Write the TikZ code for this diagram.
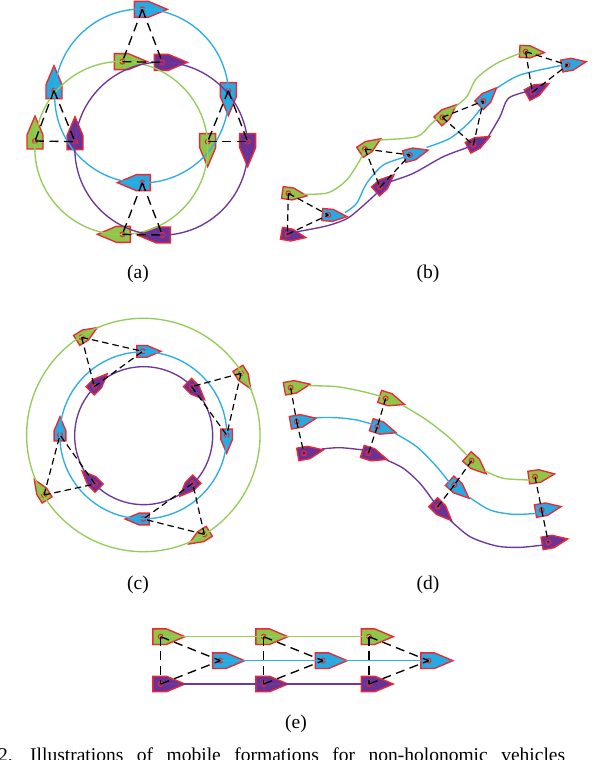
\documentclass[tikz,border=0pt]{standalone}
\usepackage{fontspec}
\setmainfont{Liberation Serif}
\definecolor{bgreen}{RGB}{141,198,72}
\definecolor{bblue}{RGB}{38,170,226}
\definecolor{bpurple}{RGB}{106,50,150}
\definecolor{lgreen}{RGB}{150,204,90}
\definecolor{lblue}{RGB}{45,175,228}
\definecolor{lpurple}{RGB}{110,55,155}
\definecolor{bred}{RGB}{238,40,50}
\tikzset{
  hull/.style={draw=bred,line width=1.35pt,line join=miter},
  hub/.style={draw=bred,line width=1.1pt},
  link/.style={black,line width=1.35pt,dash pattern=on 9pt off 5.5pt},
  linksmall/.style={black,line width=1.2pt,dash pattern=on 6.5pt off 4pt},
  trackg/.style={lgreen,line width=1.35pt},
  trackb/.style={lblue,line width=1.35pt},
  trackp/.style={lpurple,line width=1.35pt},
  panel/.style={x=0.33333pt,y=-0.33333pt},
  sublabel/.style={font=\fontsize{19.5}{22}\selectfont,inner sep=0pt,anchor=center},
}
% name, x, y, heading, scale, fill
\newcommand{\boat}[6]{%
  \coordinate (#1) at (#2,#3);
  \begin{scope}[shift={(#1)},x=1pt,y=1pt,rotate=#4,scale=#5]
    \path[hull,fill=#6] (-8,-8) -- (6,-8) -- (25,0) -- (6,8) -- (-8,8) -- cycle;
  \end{scope}
  \draw[hub] (#1) circle[radius=2.4pt];
}
\begin{document}
\begin{tikzpicture}[x=1pt,y=-1pt]
\useasboundingbox (0,0) rectangle (612,760);
\fill[white] (0,0) rectangle (612,760);

% ---------- (a)
\begin{scope}[shift={(20,0)},panel]
  \boat{a1b}{367}{28}{0}{1}{bblue}
  \boat{a1g}{307}{185}{0}{1}{bgreen}
  \boat{a1p}{427}{187}{0}{1}{bpurple}
  \boat{a2b}{102}{272}{90}{1}{bblue}
  \boat{a2g}{45}{423}{90}{1}{bgreen}
  \boat{a2p}{165}{425}{90}{1}{bpurple}
  \boat{a3b}{625}{272}{-90}{1}{bblue}
  \boat{a3g}{563}{425}{-90}{1}{bgreen}
  \boat{a3p}{683}{425}{-90}{1}{bpurple}
  \boat{a4b}{367}{548}{180}{1}{bblue}
  \boat{a4g}{307}{703}{180}{1}{bgreen}
  \boat{a4p}{427}{705}{180}{1}{bpurple}
  \draw[trackb] (365,288) circle[radius=87pt];
  \draw[trackg] (304,444) circle[radius=86.5pt];
  \draw[trackp] (424,446) circle[radius=86.5pt];
  \foreach \n in {a1,a2,a3,a4}{
    \draw[link] (\n b) -- (\n g);
    \draw[link] (\n b) -- (\n p);
    \draw[link] (\n g) -- (\n p);
  }
\end{scope}

% ---------- (b)
\begin{scope}[shift={(270,30)},panel]
  \boat{b1g}{55}{490}{-8}{.75}{bgreen}
  \boat{b1b}{175}{555}{-5}{.75}{bblue}
  \boat{b1p}{52}{613}{-10}{.75}{bpurple}
  \boat{b2g}{285}{357}{33}{.75}{bgreen}
  \boat{b2b}{420}{375}{15}{.75}{bblue}
  \boat{b2p}{330}{472}{42}{.75}{bpurple}
  \boat{b3g}{517}{262}{42}{.75}{bgreen}
  \boat{b3b}{640}{213}{45}{.75}{bblue}
  \boat{b3p}{610}{345}{27}{.75}{bpurple}
  \boat{b4g}{767}{65}{-3}{.75}{bgreen}
  \boat{b4b}{893}{105}{10}{.75}{bblue}
  \boat{b4p}{787}{187}{28}{.75}{bpurple}
  \draw[trackg] plot[smooth] coordinates {(100,493) (175,488) (230,450) (270,390) (285,357)};
  \draw[trackg] plot[smooth] coordinates {(328,330) (440,320) (480,285) (505,262)};
  \draw[trackg] plot[smooth] coordinates {(550,235) (590,200) (620,145) (680,100) (750,70)};
  \draw[trackb] plot[smooth] coordinates {(225,548) (260,520) (290,460) (340,405) (410,380)};
  \draw[trackb] plot[smooth] coordinates {(470,352) (540,325) (600,275) (640,225)};
  \draw[trackb] plot[smooth] coordinates {(680,175) (750,135) (880,105)};
  \draw[trackp] plot[smooth] coordinates {(50,610) (110,600) (180,585) (240,560) (320,490)};
  \draw[trackp] plot[smooth] coordinates {(360,455) (430,430) (520,380) (600,350)};
  \draw[trackp] plot[smooth] coordinates {(655,320) (690,260) (715,205) (770,185)};
  \foreach \n in {b1,b2,b3,b4}{
    \draw[linksmall] (\n g) -- (\n b);
    \draw[linksmall] (\n g) -- (\n p);
    \draw[linksmall] (\n p) -- (\n b);
  }
\end{scope}

% ---------- (c)
\begin{scope}[shift={(20,310)},panel]
  \boat{c1g}{185}{82}{32}{.73}{bgreen}
  \boat{c1b}{368}{124}{0}{.73}{bblue}
  \boat{c1p}{223}{230}{45}{.73}{bpurple}
  \boat{c2g}{663}{190}{-58}{.73}{bgreen}
  \boat{c2b}{620}{375}{-90}{.73}{bblue}
  \boat{c2p}{515}{230}{-45}{.73}{bpurple}
  \boat{c3g}{553}{673}{-148}{.73}{bgreen}
  \boat{c3b}{370}{627}{180}{.73}{bblue}
  \boat{c3p}{518}{520}{-135}{.73}{bpurple}
  \boat{c4g}{72}{555}{122}{.73}{bgreen}
  \boat{c4b}{120}{375}{90}{.73}{bblue}
  \boat{c4p}{225}{522}{135}{.73}{bpurple}
  \draw[trackg] (370,375) circle[radius=116.7pt];
  \draw[trackb] (370,376) circle[radius=83.5pt];
  \draw[trackp] (371,377) circle[radius=69pt];
  \foreach \n in {c1,c2,c3,c4}{
    \draw[linksmall] (\n g) -- (\n b);
    \draw[linksmall] (\n g) -- (\n p);
    \draw[linksmall] (\n p) -- (\n b);
  }
\end{scope}

% ---------- (d)
\begin{scope}[shift={(270,370)},panel]
  \boat{d1g}{62}{53}{10}{.79}{bgreen}
  \boat{d1b}{80}{155}{10}{.79}{bblue}
  \boat{d1p}{102}{250}{10}{.79}{bpurple}
  \boat{d2g}{347}{85}{-18}{.79}{bgreen}
  \boat{d2b}{322}{170}{-18}{.79}{bblue}
  \boat{d2p}{295}{250}{-18}{.79}{bpurple}
  \boat{d3g}{605}{272}{-42}{.79}{bgreen}
  \boat{d3b}{553}{345}{-42}{.79}{bblue}
  \boat{d3p}{503}{410}{-45}{.79}{bpurple}
  \boat{d4g}{795}{320}{8}{.79}{bgreen}
  \boat{d4b}{815}{420}{10}{.79}{bblue}
  \boat{d4p}{835}{517}{10}{.79}{bpurple}
  \draw[trackg] plot[smooth] coordinates {(115,47) (200,50) (280,65) (335,80)};
  \draw[trackg] plot[smooth] coordinates {(400,107) (470,150) (540,205) (590,255)};
  \draw[trackg] plot[smooth] coordinates {(645,303) (700,325) (780,330)};
  \draw[trackb] plot[smooth] coordinates {(135,143) (200,143) (260,150) (315,165)};
  \draw[trackb] plot[smooth] coordinates {(375,190) (440,230) (500,290) (540,340)};
  \draw[trackb] plot[smooth] coordinates {(598,382) (660,420) (730,433) (800,430)};
  \draw[trackp] plot[smooth] coordinates {(155,237) (210,233) (280,240)};
  \draw[trackp] plot[smooth] coordinates {(350,270) (400,295) (450,340) (495,400)};
  \draw[trackp] plot[smooth] coordinates {(540,450) (600,500) (680,528) (750,532) (820,525)};
  \foreach \n in {d1,d2,d3,d4}{
    \draw[linksmall] (\n g) -- (\n b);
    \draw[linksmall] (\n b) -- (\n p);
  }
\end{scope}

% ---------- (e)
\begin{scope}[shift={(140,620)},panel]
  \boat{e1g}{62}{50}{0}{.97}{bgreen}
  \boat{e2g}{371}{50}{0}{.97}{bgreen}
  \boat{e3g}{687}{50}{0}{.97}{bgreen}
  \boat{e1b}{241}{122}{0}{.97}{bblue}
  \boat{e2b}{549}{122}{0}{.97}{bblue}
  \boat{e3b}{866}{122}{0}{.97}{bblue}
  \boat{e1p}{62}{192}{0}{.97}{bpurple}
  \boat{e2p}{371}{192}{0}{.97}{bpurple}
  \boat{e3p}{687}{192}{0}{.97}{bpurple}
  \draw[trackg] (e1g) -- (e2g) -- (e3g);
  \draw[trackb] (e1b) -- (e2b) -- (e3b);
  \draw[trackp] (e1p) -- (e2p) -- (e3p);
  \foreach \n in {e1,e2,e3}{
    \draw[link] (\n g) -- (\n b);
    \draw[link] (\n g) -- (\n p);
    \draw[link] (\n p) -- (\n b);
  }
\end{scope}

% ---------- labels
\node[sublabel] (la) at (138,274) {(a)};
\node[sublabel] (lb) at (428,274) {(b)};
\node[sublabel] (lc) at (138,585) {(c)};
\node[sublabel] (ld) at (428,585) {(d)};
\node[sublabel] (le) at (296,724) {(e)};
\node[inner sep=0pt,anchor=base west,font=\fontsize{19.5}{22}\selectfont] (cap) at (-2,761.5)
  {\makebox[32pt][l]{2.}\makebox[535pt][s]{Illustrations of mobile formations for non-holonomic vehicles}};
\end{tikzpicture}
\end{document}
